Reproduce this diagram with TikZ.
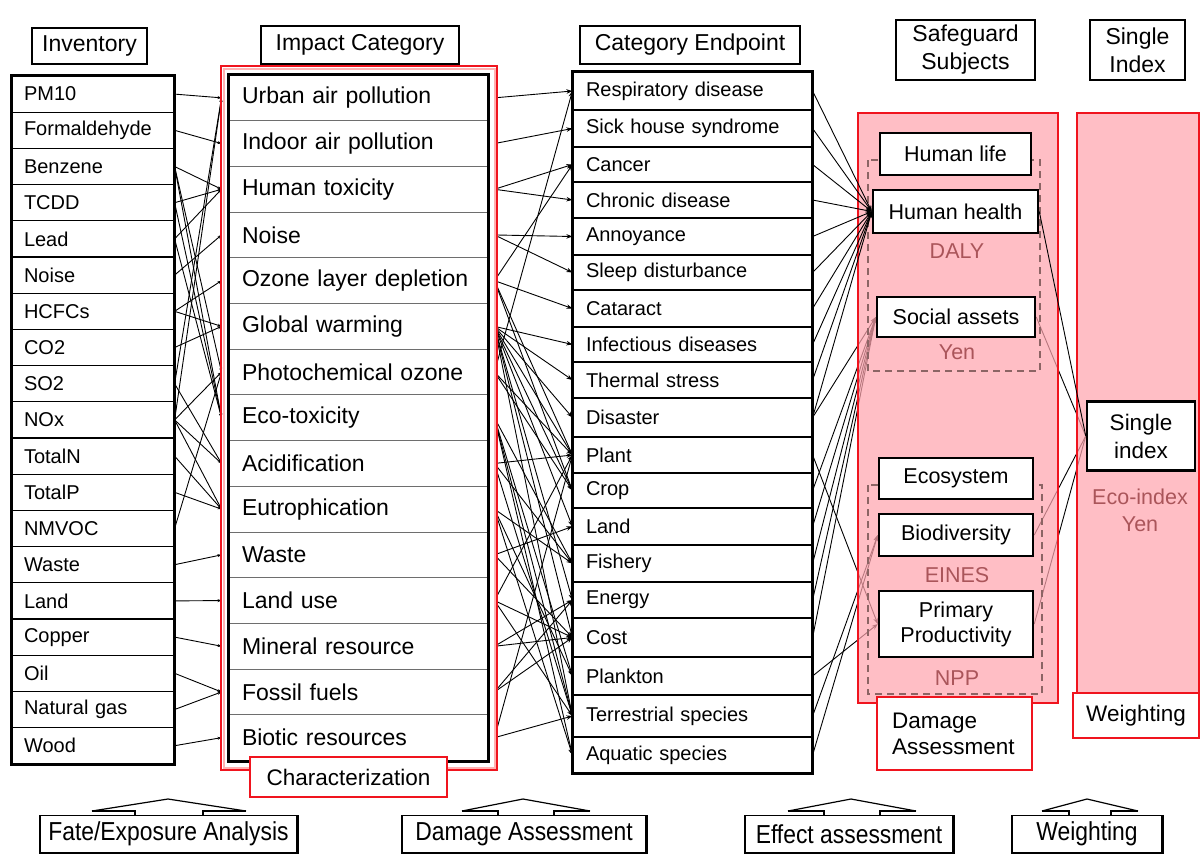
\documentclass[tikz,border=0pt]{standalone}
\usepackage{fontspec}
\setmainfont{Liberation Sans}
\newfontfamily\narrowfont[FakeStretch=0.88]{Liberation Sans}
\usetikzlibrary{arrows.meta}
\pgfdeclarelayer{lines}
\pgfdeclarelayer{pinkl}
\pgfsetlayers{lines,pinkl,main}
\definecolor{redline}{RGB}{240,20,30}
\definecolor{pinkbase}{RGB}{255,165,175}
\definecolor{brownlab}{RGB}{170,85,90}
\definecolor{dashcol}{RGB}{140,100,100}
\definecolor{sepgray}{RGB}{110,110,110}
\begin{document}
\begin{tikzpicture}[x=1pt,y=-1pt,
 conn/.style={line width=0.9pt},
 tipA/.style={-{Stealth[length=6pt,width=4.5pt]}},
 tipB/.style={-{Stealth[length=4pt,width=3pt]}},
 invrow/.style={draw, line width=1.2pt, minimum height=36.2pt, text width=138pt, inner xsep=12pt, inner ysep=0pt, align=left, font=\fontsize{20}{22}\selectfont},
 improw/.style={draw=sepgray, line width=1pt, minimum height=45.7pt, text width=233pt, inner xsep=13pt, inner ysep=0pt, align=left, font=\fontsize{23}{25}\selectfont},
 eprow/.style={draw, line width=1.2pt, text width=213pt, inner xsep=13pt, inner ysep=0pt, align=left, font=\fontsize{20}{22}\selectfont},
 hdr/.style={draw, line width=1.8pt, inner sep=0pt, align=center, font=\fontsize{23}{28}\selectfont},
 sgbox/.style={draw, line width=2.5pt, fill=white, inner sep=0pt, align=center, font=\fontsize{21.5}{26}\selectfont},
 redbox/.style={draw=redline, line width=2.5pt, fill=white, inner sep=0pt, font=\fontsize{22.5}{26}\selectfont},
 brlab/.style={text=brownlab, inner sep=0pt, font=\fontsize{21.5}{26}\selectfont},
 botbox/.style={draw, line width=1.3pt, fill=white, inner sep=0pt, minimum height=37pt, font=\narrowfont\fontsize{26}{28}\selectfont},
]
\useasboundingbox (0,0) rectangle (1201,854);

% headers
\node[hdr, minimum width=115pt, minimum height=36pt] (hinv) at (89.5,46) {Inventory};
\node[hdr, minimum width=198pt, minimum height=38pt] (himp) at (360,45) {Impact Category};
\node[hdr, minimum width=220pt, minimum height=38pt] (hep) at (690,45) {Category Endpoint};
\node[hdr, minimum width=139pt, minimum height=60pt] (hsg) at (965.5,50) {Safeguard\\Subjects};
\node[hdr, minimum width=95pt, minimum height=60pt] (hsi) at (1137.5,50) {Single\\Index};

% inventory column
\foreach \t [count=\i] in {PM10,Formaldehyde,Benzene,TCDD,Lead,Noise,HCFCs,CO2,SO2,NOx,TotalN,TotalP,NMVOC,Waste,Land,Copper,Oil,Natural gas,Wood}
  \node[invrow] (inv\i) at (93,{76+36.2*(\i-0.5)}) {\t};
\draw[line width=3pt] (inv1.north west) rectangle (inv19.south east);

% impact column
\foreach \t [count=\i] in {Urban air pollution,Indoor air pollution,Human toxicity,Noise,Ozone layer depletion,Global warming,Photochemical ozone,Eco-toxicity,Acidification,Eutrophication,Waste,Land use,Mineral resource,Fossil fuels,Biotic resources}
  \node[improw] (imp\i) at (358.5,{75+45.7*(\i-0.5)}) {\t};
\draw[line width=3pt] (imp1.north west) rectangle (imp15.south east);
\draw[red!30, line width=2pt] (223.5,68.5) rectangle (494.5,767.5);
\draw[redline, line width=2.5pt] (221,66) rectangle (497,770);

% endpoint column
\foreach \t/\a/\b [count=\i] in {Respiratory disease/72/110,Sick house syndrome/110/147,Cancer/147/182,Chronic disease/182/218,Annoyance/218/255,Sleep disturbance/255/290,Cataract/290/327,Infectious diseases/327/362,Thermal stress/362/398,Disaster/398/437,Plant/437/473,Crop/473/508,Land/508/545,Fishery/545/582,Energy/582/618,Cost/618/657,Plankton/657/695,Terrestrial species/695/737,Aquatic species/737/773}
  \node[eprow, minimum height={(\b-\a)*1pt}] (ep\i) at (692.5,{(\a+\b)/2}) {\t};
\draw[line width=3pt] (ep1.north west) rectangle (ep19.south east);

% pink panels
\begin{pgfonlayer}{pinkl}
\fill[pinkbase, fill opacity=0.72] (858,113) rectangle (1058,703);
\fill[pinkbase, fill opacity=0.72] (1077,113) rectangle (1199,693);
\end{pgfonlayer}
\draw[redline, line width=2.5pt] (858,113) rectangle (1058,703);
\draw[redline, line width=2.5pt] (1077,113) rectangle (1199,693);
\draw[dashcol, line width=1.6pt, dash pattern=on 7pt off 5pt] (868,160) rectangle (1040,371);
\draw[dashcol, line width=1.6pt, dash pattern=on 7pt off 5pt] (868,485) rectangle (1042,694);

% safeguard boxes
\node[sgbox, minimum width=151pt, minimum height=42pt] (hl) at (955.5,154) {Human life};
\node[sgbox, minimum width=165pt, minimum height=43pt] (hh) at (955.5,211.5) {Human health};
\node[sgbox, minimum width=158pt, minimum height=40pt] (sa) at (956,317) {Social assets};
\node[sgbox, minimum width=154pt, minimum height=41pt] (eco) at (956,478.5) {Ecosystem};
\node[sgbox, minimum width=154pt, minimum height=42pt] (bio) at (956,535) {Biodiversity};
\node[sgbox, minimum width=154pt, minimum height=66pt, font=\fontsize{21.5}{25}\selectfont] (pp) at (956,624) {Primary\\Productivity};
\node[sgbox, minimum width=108pt, minimum height=69pt, font=\fontsize{22.5}{28}\selectfont] (si) at (1141,436) {Single\\index};

\node[brlab] (daly) at (957,251) {DALY};
\node[brlab] (yen1) at (957,352) {Yen};
\node[brlab] (eines) at (957,575) {EINES};
\node[brlab] (npp) at (957,678) {NPP};
\node[brlab] (ecoidx) at (1140,497) {Eco-index};
\node[brlab] (yen2) at (1140,524) {Yen};

% red label boxes
\node[redbox, minimum width=197pt, minimum height=40pt] (char) at (348.5,777) {Characterization};
\node[redbox, minimum width=155pt, minimum height=73pt, text width=125pt, align=left] (dam) at (954.5,733.5) {Damage\\Assessment};
\node[redbox, minimum width=126pt, minimum height=45pt] (wgt) at (1136,715.5) {Weighting};

% connectors
\begin{pgfonlayer}{lines}
\foreach \a/\b in {1/1,2/2,3/3,3/7,3/8,4/3,4/8,5/3,5/8,6/4,7/5,7/6,8/6,9/1,9/9,10/1,10/7,10/9,10/10,11/10,12/10,13/7,14/11,15/12,16/13,17/14,18/14,19/15}
  \draw[conn,tipB] (inv\a.east) -- ([xshift=-7pt]imp\b.west);
\foreach \a/\b in {1/1,2/2,3/3,3/4,4/5,4/6,5/3,5/7,5/11,5/12,6/8,6/9,6/10,6/11,6/12,6/13,6/15,6/16,6/18,7/1,7/11,7/12,8/14,8/17,8/18,8/19,9/11,9/14,9/18,10/14,10/17,10/19,11/13,11/16,12/11,12/16,12/18,13/16,13/15,14/16,14/15,15/18,15/11}
  \draw[conn,tipA] ([xshift=6pt]imp\a.east) -- (ep\b.west);
\foreach \a in {10,12,13,14,15,16}
  \draw[conn,tipA] (ep\a.east) -- (sa.west);
\foreach \a in {11,17}
  \draw[conn,tipA] (ep\a.east) -- (pp.west);
\foreach \a in {18,19}
  \draw[conn,tipA] (ep\a.east) -- (bio.west);
\foreach \n in {sa,bio,pp}
  \draw[conn] (\n.east) -- (si.west);
\end{pgfonlayer}
\foreach \a in {1,...,10}
  \draw[conn,tipA] (ep\a.east) -- (hh.west);
\draw[conn] (hh.east) -- (si.west);

% bottom process boxes
\foreach \xl/\ap/\xr in {92/168/246,462/523/590,788/851/916,1042/1087/1138} {
  \draw[line width=1.2pt] (\xl,811) -- (\ap,799) -- (\xr,811);
  \draw[line width=2.5pt] (\xl,811) -- ({\xl+(\xr-\xl)*0.28},811) -- ({\xl+(\xr-\xl)*0.28},815);
  \draw[line width=2.5pt] (\xr,811) -- ({\xr-(\xr-\xl)*0.28},811) -- ({\xr-(\xr-\xl)*0.28},815);
}
\node[botbox, minimum width=257pt] (b1) at (168.5,834) {Fate/Exposure Analysis};
\node[botbox, minimum width=244pt] (b2) at (524,834) {Damage Assessment};
\node[botbox, minimum width=208pt] (b3) at (849,834) {Effect assessment};
\node[botbox, minimum width=150pt] (b4) at (1087,834) {Weighting};
\foreach \n in {b1,b2,b3,b4}
  \draw[line width=2.5pt] (\n.south west) -- (\n.south east) -- (\n.north east);
\end{tikzpicture}
\end{document}
